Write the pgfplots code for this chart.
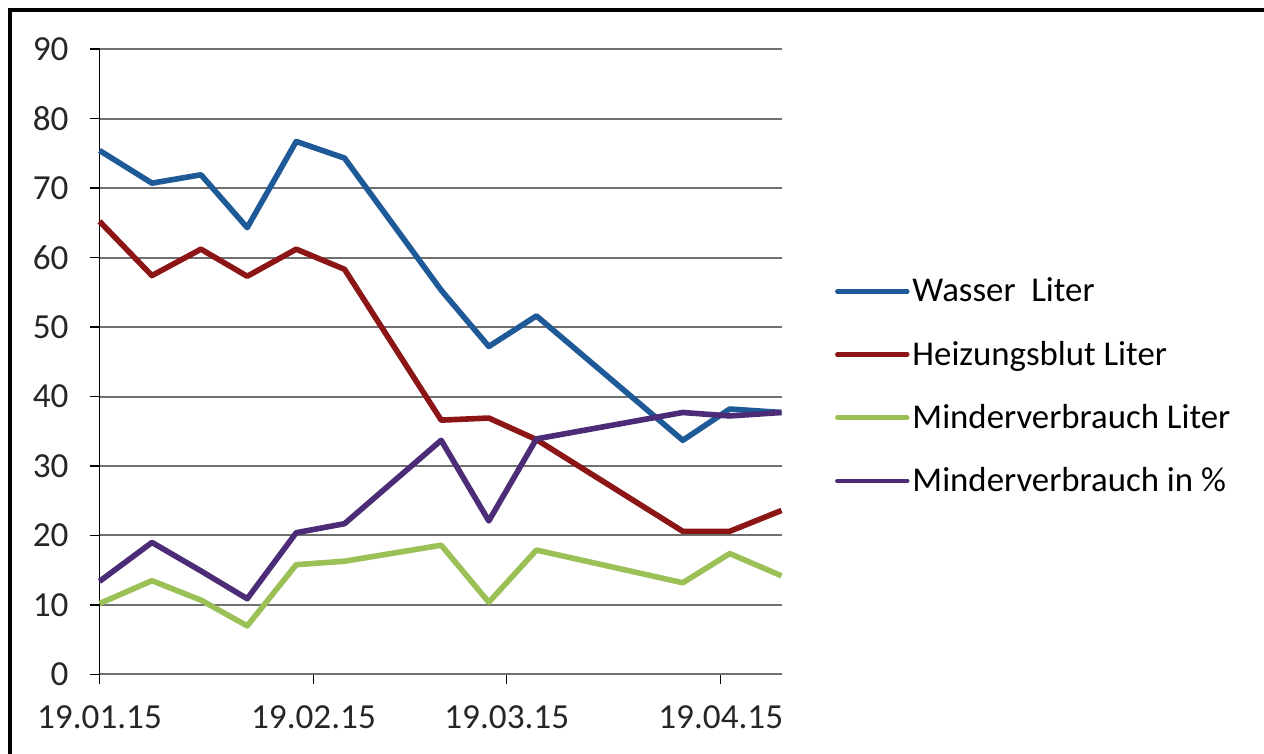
\documentclass[border=0pt]{standalone}
\usepackage{fontspec}
\setmainfont{Carlito}
\usepackage{pgfplots}
\pgfplotsset{compat=1.18}
\definecolor{cWasser}{RGB}{31,90,152}
\definecolor{cHeiz}{RGB}{140,22,22}
\definecolor{cMind}{RGB}{155,192,85}
\definecolor{cProz}{RGB}{76,44,118}
\definecolor{cGrid}{RGB}{112,112,112}
\pgfplotstableread{
day wasser heiz mind proz
0    75.4 65.2 10.2 13.4
7.6  70.7 57.4 13.5 19.0
14.7 71.9 61.2 10.7 14.9
21.4 64.3 57.3 7.0  10.9
28.5 76.7 61.2 15.8 20.4
35.5 74.3 58.3 16.3 21.7
49.5 55.3 36.6 18.6 33.7
56.4 47.2 36.9 10.4 22.1
63.3 51.6 33.8 17.9 33.9
84.5 33.7 20.6 13.2 37.7
91.3 38.2 20.6 17.4 37.2
98.8 37.7 23.6 14.2 37.7
}\datatable
\begin{document}
\begin{tikzpicture}
\useasboundingbox (0,0) rectangle (632pt,377pt);
\fill[white] (0,0) rectangle (632pt,377pt);
\draw[black, line width=2pt] (4.75pt,0pt) -- (4.75pt,372pt) -- (632pt,372pt);
\begin{axis}[
  at={(49.75pt,39.75pt)}, anchor=south west,
  scale only axis, width=341pt, height=312.75pt,
  xmin=0, xmax=98.8, ymin=0, ymax=90,
  xtick={0,31,59,90},
  xticklabels={19.01.15,19.02.15,19.03.15,19.04.15},
  ytick={0,10,...,90},
  ymajorgrids,
  grid style={line width=1pt, color=cGrid},
  axis x line*=bottom, axis y line*=left,
  x axis line style={-, draw=cGrid, line width=1pt},
  y axis line style={-, draw=black, line width=0.7pt},
  tick align=outside, major tick length=5pt,
  tick style={black, line width=0.7pt},
  /pgf/number format/assume math mode=true,
  tick label style={font=\fontsize{17.6}{21}\selectfont, text=black!85},
  yticklabel style={xshift=-7pt},
  xticklabel style={yshift=-7pt},
  clip=false,
  legend style={at={(1.078,0.461)}, anchor=west, draw=none, fill=none,
    font=\fontsize{17.4}{21}\selectfont, row sep=15pt, inner sep=0pt,
    nodes={inner sep=1.5pt}},
  legend cell align=left,
  legend image code/.code={\draw[#1, line width=2.2pt, line cap=round] (0pt,0pt) -- (35pt,0pt);},
  every axis plot/.append style={line width=2.8pt, line join=round},
]
\addplot[cWasser] table[x=day, y=wasser] {\datatable};
\addlegendentry{Wasser\ \ Liter}
\addplot[cHeiz] table[x=day, y=heiz] {\datatable};
\addlegendentry{Heizungsblut Liter}
\addplot[cMind] table[x=day, y=mind] {\datatable};
\addlegendentry{Minderverbrauch Liter}
\addplot[cProz] table[x=day, y=proz] {\datatable};
\addlegendentry{Minderverbrauch in \%}
\end{axis}
\end{tikzpicture}
\end{document}
